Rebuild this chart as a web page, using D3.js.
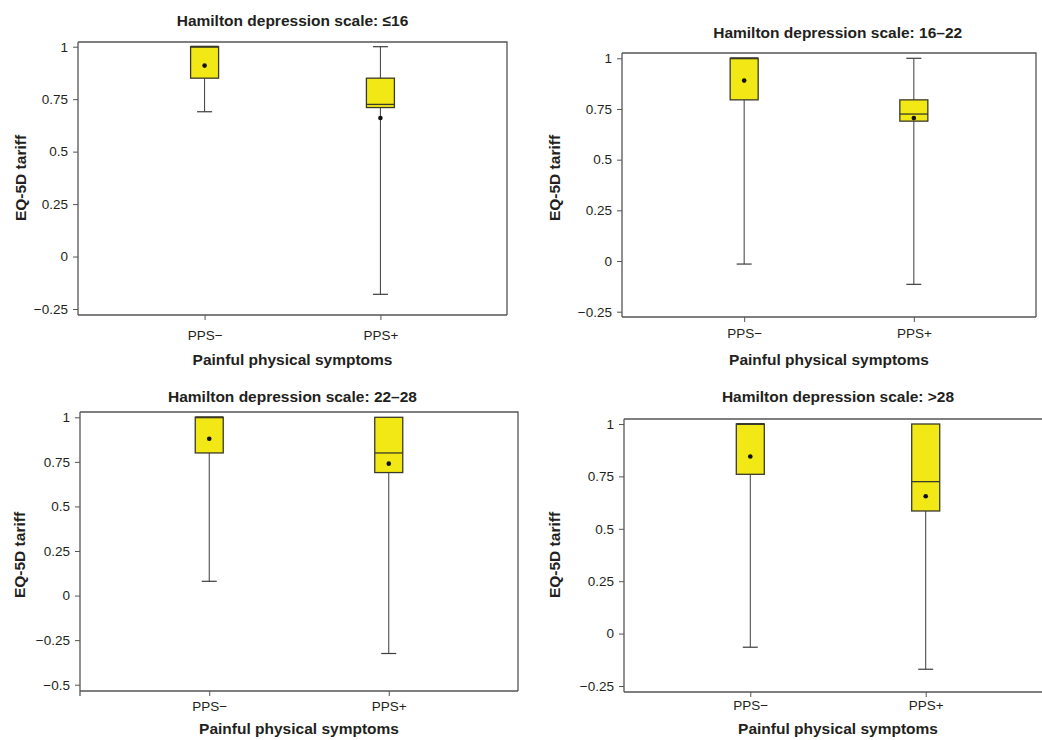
<!DOCTYPE html>
<html>
<head>
<meta charset="utf-8">
<script src="https://cdn.jsdelivr.net/npm/d3@7"></script>
<style>
  html, body { margin: 0; padding: 0; background: #fff; }
  svg { display: block; }
  text { font-family: "Liberation Sans", Arial, Helvetica, sans-serif; fill: #231f20; }
</style>
</head>
<body>
<svg id="chart" width="1042" height="740"></svg>
<script>
// ---------------- data ----------------
const panelTitles = [
  "Hamilton depression scale: \u226416",
  "Hamilton depression scale: 16\u201322",
  "Hamilton depression scale: 22\u201328",
  "Hamilton depression scale: >28"
];
const categories = ["PPS\u2212", "PPS+"];
const whiskerLow  = [[0.69, -0.18], [-0.015, -0.115], [0.08, -0.325], [-0.065, -0.17]];
const q1Values    = [[0.85, 0.71], [0.795, 0.69], [0.80, 0.69], [0.76, 0.585]];
const medianValues= [[1.0, 0.725], [1.0, 0.725], [1.0, 0.80], [1.0, 0.725]];
const q3Values    = [[1.0, 0.85], [1.0, 0.795], [1.0, 1.0], [1.0, 1.0]];
const whiskerHigh = [[1.0, 1.0], [1.0, 1.0], [1.0, 1.0], [1.0, 1.0]];
const meanValues  = [[0.91, 0.66], [0.89, 0.705], [0.88, 0.74], [0.845, 0.655]];
const yTicksA = [-0.25, 0, 0.25, 0.5, 0.75, 1];
const yTicksB = [-0.5, -0.25, 0, 0.25, 0.5, 0.75, 1];
const yTickLabelsA = ["\u22120.25", "0", "0.25", "0.5", "0.75", "1"];
const yTickLabelsB = ["\u22120.5", "\u22120.25", "0", "0.25", "0.5", "0.75", "1"];
const panelTicks = [yTicksA, yTicksA, yTicksB, yTicksA];
const panelTickLabels = [yTickLabelsA, yTickLabelsA, yTickLabelsB, yTickLabelsA];
const xAxisTitle = "Painful physical symptoms";
const yAxisTitle = "EQ-5D tariff";

// ---------------- layout ----------------
const layout = [
  {left: 78,  right: 507,  top: 42,  bottom: 315, yTop: 46.7, yLow: 309,   titleX: 292.5, titleY: 21,    yTitleX: 21,  yTitleY: 178, xPad: 10, xTitleY: 360},
  {left: 622, right: 1036, top: 53,  bottom: 317, yTop: 58.3, yLow: 311.7, titleX: 837.7, titleY: 32.3,  yTitleX: 555, yTitleY: 178, xPad: 6,  xTitleY: 360},
  {left: 80,  right: 518,  top: 412, bottom: 691, yTop: 417.3,yLow: 684.7, titleX: 292.5, titleY: 396.7, yTitleX: 20,  yTitleY: 555, xPad: 5,  xTitleY: 729, axisExt: 5},
  {left: 624, right: 1052, top: 419, bottom: 692, yTop: 424,  yLow: 686,   titleX: 838,   titleY: 396.7, yTitleX: 555, yTitleY: 555, xPad: 3,  xTitleY: 729}
];

const svg = d3.select("#chart");
const fillColor = "#f1e816";
const boxStroke = "#3a3a2a";
const lineColor = "#3c3c3c";

layout.forEach((L, p) => {
  const g = svg.append("g");
  const ticks = panelTicks[p];
  const labels = panelTickLabels[p];
  const y = d3.scaleLinear().domain([ticks[0], 1]).range([L.yLow, L.yTop]);
  const x = d3.scalePoint().domain(categories).range([L.left, L.right]).padding(0.72);

  // frame (top and right)
  g.append("path")
    .attr("d", `M${L.left},${L.top}H${L.right}V${L.bottom}`)
    .attr("fill", "none").attr("stroke", "#555").attr("stroke-width", 1.3);

  // y axis
  const yAxis = d3.axisLeft(y).tickValues(ticks)
    .tickFormat((d, i) => labels[i]).tickSize(5).tickPadding(5);
  const ya = g.append("g").attr("transform", `translate(${L.left},0)`).call(yAxis);
  ya.select(".domain").attr("d", `M0,${L.top}V${L.bottom + (L.axisExt || 0)}`)
    .attr("stroke", "#555").attr("stroke-width", 1.3);
  ya.selectAll(".tick line").attr("stroke", "#555");
  ya.selectAll(".tick text").attr("font-size", 13.5).attr("fill", "#231f20")
    .attr("font-family", "Liberation Sans, Arial, sans-serif");

  // x axis
  const xAxis = d3.axisBottom(x).tickSize(5).tickPadding(L.xPad);
  const xa = g.append("g").attr("transform", `translate(0,${L.bottom})`).call(xAxis);
  xa.select(".domain").attr("d", `M${L.left},0H${L.right}`)
    .attr("stroke", "#555").attr("stroke-width", 1.3);
  xa.selectAll(".tick line").attr("stroke", "#555");
  xa.selectAll(".tick text").attr("font-size", 13.5).attr("fill", "#231f20")
    .attr("font-family", "Liberation Sans, Arial, sans-serif");

  // boxes
  const boxW = 28, capW = 15;
  categories.forEach((c, i) => {
    const cx = x(c);
    const lo = whiskerLow[p][i], hi = whiskerHigh[p][i];
    const b1 = q1Values[p][i], b3 = q3Values[p][i];
    const med = medianValues[p][i], mean = meanValues[p][i];
    // lower whisker
    g.append("line").attr("x1", cx).attr("x2", cx).attr("y1", y(b1)).attr("y2", y(lo))
      .attr("stroke", lineColor).attr("stroke-width", 1);
    g.append("line").attr("x1", cx - capW / 2).attr("x2", cx + capW / 2).attr("y1", y(lo)).attr("y2", y(lo))
      .attr("stroke", lineColor).attr("stroke-width", 1.2);
    // upper whisker
    if (hi > b3) {
      g.append("line").attr("x1", cx).attr("x2", cx).attr("y1", y(b3)).attr("y2", y(hi))
        .attr("stroke", lineColor).attr("stroke-width", 1);
      g.append("line").attr("x1", cx - capW / 2).attr("x2", cx + capW / 2).attr("y1", y(hi)).attr("y2", y(hi))
        .attr("stroke", lineColor).attr("stroke-width", 1.2);
    }
    // box
    g.append("rect").attr("x", cx - boxW / 2).attr("width", boxW)
      .attr("y", y(b3)).attr("height", y(b1) - y(b3))
      .attr("fill", fillColor).attr("stroke", boxStroke).attr("stroke-width", 1.3);
    // median
    g.append("line").attr("x1", cx - boxW / 2).attr("x2", cx + boxW / 2).attr("y1", y(med)).attr("y2", y(med))
      .attr("stroke", boxStroke).attr("stroke-width", med >= b3 ? 2 : 1.3);
    // mean
    g.append("circle").attr("cx", cx).attr("cy", y(mean)).attr("r", 2.3).attr("fill", "#111");
  });

  // titles
  g.append("text").attr("x", L.titleX).attr("y", L.titleY).attr("dy", "0.35em")
    .attr("text-anchor", "middle").attr("font-size", 15.5).attr("font-weight", "bold")
    .text(panelTitles[p]);
  g.append("text").attr("x", (L.left + L.right) / 2).attr("y", L.xTitleY).attr("dy", "0.35em")
    .attr("text-anchor", "middle").attr("font-size", 15.5).attr("font-weight", "bold")
    .text(xAxisTitle);
  g.append("text").attr("transform", `translate(${L.yTitleX},${L.yTitleY}) rotate(-90)`)
    .attr("dy", "0.35em").attr("text-anchor", "middle").attr("font-size", 15.5).attr("font-weight", "bold")
    .text(yAxisTitle);
});
</script>
</body>
</html>
